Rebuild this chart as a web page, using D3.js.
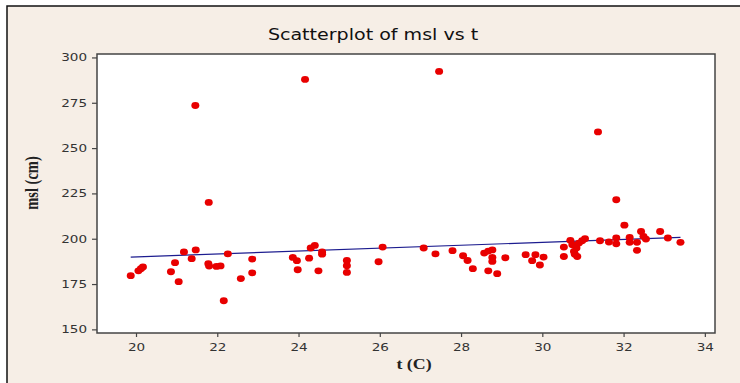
<!DOCTYPE html>
<html>
<head>
<meta charset="utf-8">
<script src="https://cdn.jsdelivr.net/npm/d3@7"></script>
<style>
  html, body { margin: 0; padding: 0; background: #ffffff; }
  svg { display: block; }
</style>
</head>
<body>
<svg id="chart" width="740" height="383"></svg>
<script>
// Temperature t (°C) and mean sea level msl (cm), one entry per observation
const tValues = [
  19.87, 20.06, 20.12, 20.17, 20.86, 20.96, 21.05, 21.18, 21.37, 21.46,
  21.47, 21.78, 21.79, 21.80, 21.98, 22.08, 22.16, 22.26, 22.58, 22.86,
  22.86, 23.86, 23.96, 23.98, 24.16, 24.30, 24.40, 24.26, 24.58, 24.49,
  24.58, 25.19, 25.19, 25.19, 25.97, 26.07, 27.08, 27.37, 27.46, 27.79,
  28.05, 28.16, 28.29, 28.57, 28.67, 28.77, 28.77, 28.77, 28.67, 28.89,
  29.09, 29.59, 29.75, 29.83, 29.94, 30.03, 30.53, 30.53, 30.69, 30.74,
  30.78, 30.86, 30.84, 30.90, 30.98, 31.05, 30.80, 31.37, 31.42, 31.64,
  31.82, 31.82, 31.82, 32.02, 32.15, 32.15, 32.33, 32.33, 32.43, 32.49,
  32.55, 32.90, 33.09, 33.40
];
const mslValues = [
  179.6, 182.3, 183.5, 184.4, 181.8, 186.8, 176.3, 192.7, 189.0, 273.5,
  193.8, 186.2, 220.0, 184.9, 184.7, 185.0, 165.8, 191.7, 178.0, 188.8,
  181.2, 189.7, 187.9, 182.9, 287.9, 194.9, 196.3, 189.3, 192.7, 182.3,
  191.5, 188.0, 185.1, 181.4, 187.3, 195.4, 194.9, 191.7, 292.3, 193.4,
  190.6, 188.0, 183.5, 192.1, 193.2, 193.8, 189.7, 187.5, 182.3, 180.7,
  189.5, 191.2, 187.9, 191.2, 185.5, 189.9, 190.2, 195.4, 199.1, 196.7,
  193.0, 190.2, 194.9, 197.6, 198.9, 200.0, 191.5, 258.9, 198.9, 198.2,
  221.5, 200.4, 197.2, 207.5, 200.7, 198.0, 198.0, 193.6, 204.0, 201.3,
  199.8, 204.0, 200.4, 198.0
];

// Fitted line msl = intercept + slope * t
const fitIntercept = 174.0;
const fitSlope = 0.80;

const xTicks = [20, 22, 24, 26, 28, 30, 32, 34];
const yTicks = [150, 175, 200, 225, 250, 275, 300];

const titleText = "Scatterplot of msl vs t";
const xLabel = "t (C)";
const yLabel = "msl (cm)";

const points = tValues.map((t, i) => ({ t, msl: mslValues[i] }));

const svg = d3.select("#chart");
const W = 740, H = 383;
const plot = { left: 97, top: 54, right: 715, bottom: 333 };
const stretch = 1.23; // horizontal widening of lettering

// Frame background
svg.append("rect").attr("x", 0).attr("y", 0).attr("width", W).attr("height", H).attr("fill", "#ffffff");
svg.append("rect").attr("x", 7).attr("y", 6).attr("width", W + 20).attr("height", H + 20)
  .attr("fill", "#f6eee6").attr("stroke", "#111").attr("stroke-width", 1.5);

const x = d3.scaleLinear().domain([19.04, 34.25]).range([plot.left, plot.right]);
const y = d3.scaleLinear().domain([148, 301.9]).range([plot.bottom, plot.top]);

// Plot area
svg.append("rect")
  .attr("x", plot.left).attr("y", plot.top)
  .attr("width", plot.right - plot.left).attr("height", plot.bottom - plot.top)
  .attr("fill", "#ffffff");

const tickFont = "DejaVu Sans, Verdana, sans-serif";

// Y axis
const gy = svg.append("g").attr("transform", `translate(${plot.left},0)`)
  .call(d3.axisLeft(y).tickValues(yTicks).tickSize(5).tickPadding(5).tickFormat(d3.format("d")));
gy.select(".domain").remove();
gy.selectAll(".tick line").attr("stroke", "#444").attr("stroke-width", 1.2);
gy.selectAll(".tick text").each(function () {
  const t = d3.select(this);
  const xx = +t.attr("x");
  t.attr("x", 0).attr("transform", `translate(${xx},0) scale(${stretch},1)`);
}).attr("font-family", tickFont).attr("font-size", 11).attr("fill", "#333");

// X axis
const gx = svg.append("g").attr("transform", `translate(0,${plot.bottom})`)
  .call(d3.axisBottom(x).tickValues(xTicks).tickSize(4).tickPadding(6).tickFormat(d3.format("d")));
gx.select(".domain").remove();
gx.selectAll(".tick line").attr("stroke", "#444").attr("stroke-width", 1.2);
gx.selectAll(".tick text").each(function () {
  const t = d3.select(this);
  const yy = +t.attr("y");
  t.attr("y", 0).attr("transform", `translate(0,${yy}) scale(${stretch},1)`);
}).attr("font-family", tickFont).attr("font-size", 11).attr("fill", "#333");

// Plot border
svg.append("rect")
  .attr("x", plot.left).attr("y", plot.top)
  .attr("width", plot.right - plot.left).attr("height", plot.bottom - plot.top)
  .attr("fill", "none").attr("stroke", "#444").attr("stroke-width", 1.5);

// Fitted line over the observed t range
const tExtent = d3.extent(tValues);
svg.append("line")
  .attr("x1", x(tExtent[0])).attr("y1", y(fitIntercept + fitSlope * tExtent[0]))
  .attr("x2", x(tExtent[1])).attr("y2", y(fitIntercept + fitSlope * tExtent[1]))
  .attr("stroke", "#1c1c8f").attr("stroke-width", 1.2);

// Observations
svg.append("g").selectAll("ellipse").data(points).join("ellipse")
  .attr("cx", d => x(d.t)).attr("cy", d => y(d.msl))
  .attr("rx", 4.0).attr("ry", 3.4)
  .attr("fill", "#e80000");

// Title
svg.append("text")
  .attr("transform", `translate(373,40) scale(${stretch},1)`)
  .attr("text-anchor", "middle")
  .attr("font-family", tickFont).attr("font-size", 15.5).attr("fill", "#111")
  .text(titleText);

// Axis titles
svg.append("text")
  .attr("transform", `translate(414,369) scale(${stretch},1)`)
  .attr("text-anchor", "middle")
  .attr("font-family", "Liberation Serif, Times New Roman, serif").attr("font-weight", "bold")
  .attr("font-size", 14.5).attr("fill", "#222")
  .text(xLabel);

svg.append("text")
  .attr("transform", `translate(38,183) rotate(-90) scale(1,${stretch})`)
  .attr("text-anchor", "middle")
  .attr("font-family", "Liberation Serif, Times New Roman, serif").attr("font-weight", "bold")
  .attr("font-size", 14.5).attr("fill", "#222")
  .text(yLabel);
</script>
</body>
</html>
